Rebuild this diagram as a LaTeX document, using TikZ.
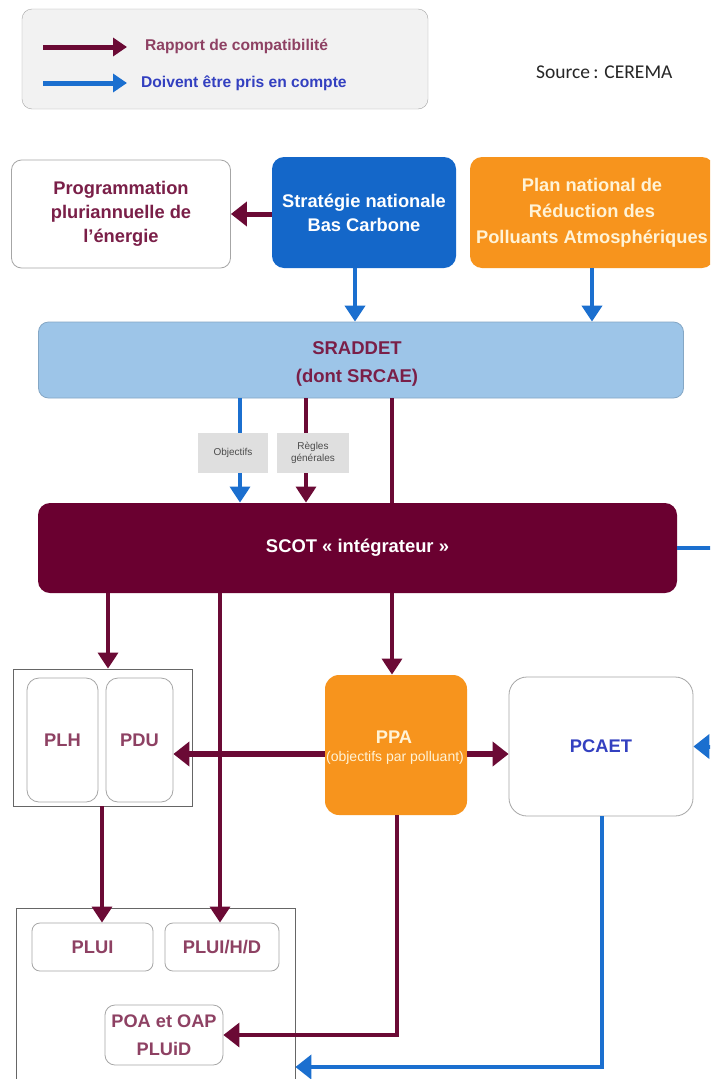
\documentclass[tikz,border=0pt]{standalone}
\usepackage{fontspec}
\setmainfont{Liberation Sans}
\newfontfamily\calib{Carlito}
\usetikzlibrary{arrows.meta}
\definecolor{maroonc}{HTML}{6B0A35}
\definecolor{scotc}{HTML}{6A0030}
\definecolor{bluec}{HTML}{1B6FCF}
\definecolor{snbcc}{HTML}{1467C9}
\definecolor{orangec}{HTML}{F7941D}
\definecolor{sradc}{HTML}{9DC5E8}
\definecolor{txtm}{HTML}{7A1F48}
\definecolor{txtb}{HTML}{3340C0}
\definecolor{cream}{HTML}{FFF3D6}
\begin{document}
\begin{tikzpicture}[x=1pt,y=-1pt,
  box/.style={draw=gray!70, line width=0.8pt, align=center, inner sep=0pt,
    font=\fontsize{18.3}{24}\selectfont\bfseries, text=txtm},
  grp/.style={draw=gray!80!black, line width=0.8pt, inner sep=0pt},
  tag/.style={fill=gray!25, inner sep=0pt, minimum width=70pt, minimum height=40pt,
    align=center, font=\fontsize{10}{12}\selectfont, text=black!70},
  tip/.style={-{Triangle[length=16pt,width=20pt]}},
  marr/.style={draw=maroonc, line width=4pt, tip},
  mline/.style={draw=maroonc, line width=3.5pt},
  barr/.style={draw=bluec, line width=4pt, tip}]
\useasboundingbox (0,0) rectangle (710,1079);
\clip (0,0) rectangle (710,1079);
\fill[white] (0,0) rectangle (710,1079);

% legend
\node[draw=gray!70, fill=gray!10, rounded corners=10pt, minimum width=406pt, minimum height=100pt, inner sep=0pt] (leg) at (225,59) {};
\coordinate (l1a) at (43,47); \coordinate (l1b) at (127,47);
\coordinate (l2a) at (43,83); \coordinate (l2b) at (127,83);
\draw[draw=maroonc, line width=5pt, -{Triangle[length=14pt,width=18pt]}] (l1a) -- (l1b);
\draw[draw=bluec, line width=5pt, -{Triangle[length=14pt,width=18pt]}] (l2a) -- (l2b);
\node[anchor=west, inner sep=0pt, font=\fontsize{15.6}{17}\selectfont\bfseries, text=txtm!85] (lt1) at (145,46) {Rapport de compatibilité};
\node[anchor=west, inner sep=0pt, font=\fontsize{15.6}{17}\selectfont\bfseries, text=txtb] (lt2) at (141,83) {Doivent être pris en compte};
\node[anchor=west, inner sep=0pt, font=\calib\fontsize{19.5}{22}\selectfont, text=black!85] (src) at (536,72) {Source\,: CEREMA};

% top row
\node[box, rounded corners=10pt, minimum width=219pt, minimum height=108pt] (PPE) at (121,214) {Programmation\\pluriannuelle de\\l’énergie};
\node[box, draw=none, fill=snbcc, text=white, rounded corners=12pt, minimum width=184pt, minimum height=111pt] (SNBC) at (364,212.5) {Stratégie nationale\\Bas Carbone};
\node[box, draw=none, fill=orangec, text=cream, rounded corners=12pt, minimum width=244pt, minimum height=111pt, font=\fontsize{18.3}{26}\selectfont\bfseries] (PNRPA) at (592,212.5) {Plan national de\\Réduction des\\Polluants Atmosphériques};

% SRADDET
\node[box, draw=sradc!85!black, fill=sradc, rounded corners=10pt, minimum width=645pt, minimum height=76pt] (SRAD) at (361,360) {};
\node[inner sep=0pt, align=center, font=\fontsize{18.5}{28}\selectfont\bfseries, text=txtm] (sradt) at (357,364) {SRADDET\\(dont SRCAE)};

% SCOT
\node[box, draw=none, fill=scotc, text=white, rounded corners=12pt, minimum width=639pt, minimum height=90pt, font=\fontsize{18.4}{20}\selectfont\bfseries] (SCOT) at (357.5,548) {SCOT « intégrateur »};

% coordinates of vertical connectors
\coordinate (xo) at (240,0);
\coordinate (xr) at (306,0);
\coordinate (xm) at (392,0);
\coordinate (xa) at (108,0);
\coordinate (xb) at (220,0);
\coordinate (xc) at (102,0);
\coordinate (xd) at (397,0);
\coordinate (xe) at (602,0);
\coordinate (yh) at (0,754);
\coordinate (yb) at (0,1067);

% connectors SRADDET -> SCOT (behind tags)
\draw[barr, line width=3.5pt] (SRAD.south -| xo) -- (SCOT.north -| xo);
\draw[marr, line width=3.5pt] (SRAD.south -| xr) -- (SCOT.north -| xr);
\draw[mline] (SRAD.south -| xm) -- (SCOT.north -| xm);
\node[tag] (obj) at (233,453) {Objectifs};
\node[tag, minimum width=72pt] (reg) at (313,453) {Règles\\générales};

% middle groups
\node[grp, minimum width=179pt, minimum height=137pt] (PLHG) at (102.5,737.5) {};
\node[box, rounded corners=12pt, minimum width=71pt, minimum height=124pt, text=txtm!85] (PLH) at (62.5,740) {PLH};
\node[box, rounded corners=12pt, minimum width=67pt, minimum height=124pt, text=txtm!85] (PDU) at (139.5,740) {PDU};
\node[box, draw=none, fill=orangec, rounded corners=14pt, minimum width=142pt, minimum height=140pt, text=cream] (PPA) at (396,745) {};
\node[inner sep=0pt, font=\fontsize{18.3}{20}\selectfont\bfseries, text=cream] (ppat) at (394,737) {PPA};
\node[inner sep=0pt, font=\fontsize{14}{15}\selectfont, text=cream] (ppas) at (395,758) {(objectifs par polluant)};
\node[box, rounded corners=18pt, minimum width=184pt, minimum height=139pt, text=txtb] (PCAET) at (601,746.5) {PCAET};

% bottom group
\node[grp, minimum width=279pt, minimum height=182pt] (OUT) at (155.5,999) {};
\node[box, rounded corners=8pt, minimum width=121pt, minimum height=48pt, text=txtm!85] (PLUI) at (92.5,947) {PLUI};
\node[box, rounded corners=8pt, minimum width=114pt, minimum height=48pt, text=txtm!85] (PLUIHD) at (222,947) {PLUI/H/D};
\node[box, rounded corners=10pt, minimum width=118pt, minimum height=60pt, text=txtm!85, font=\fontsize{18.2}{28}\selectfont\bfseries] (POA) at (164,1035) {POA et OAP\\PLUiD};

% top connectors
\draw[marr, line width=5pt, -{Triangle[length=16pt,width=24pt]}] (SNBC.west |- PPE.east) -- (PPE.east);
\draw[barr] ([xshift=-9pt]SNBC.south) -- ([xshift=-9pt]SNBC.south |- SRAD.north);
\draw[barr] (PNRPA.south) -- (PNRPA.south |- SRAD.north);

% SCOT downwards
\draw[marr, line width=3.5pt] (SCOT.south -| xa) -- (PLHG.north -| xa);
\draw[marr, line width=3.5pt] (SCOT.south -| xb) -- (PLUIHD.north -| xb);
\draw[marr, line width=3.5pt] (SCOT.south -| xm) -- (PPA.north -| xm);
\draw[marr, line width=3.5pt] (PLHG.south -| xc) -- (PLUI.north -| xc);

% PPA connectors
\draw[marr, line width=6pt, -{Triangle[length=16pt,width=24pt]}] (PPA.west |- yh) -- (PDU.east |- yh);
\draw[marr, line width=6pt, -{Triangle[length=16pt,width=24pt]}] (PPA.east |- yh) -- (PCAET.west |- yh);
\draw[marr, line width=3.5pt, -{Triangle[length=16pt,width=24pt]}] (PPA.south -| xd) |- (POA.east);

% blue loops
\draw[barr, line width=4pt, -{Triangle[length=16pt,width=24pt]}] (PCAET.south -| xe) |- (OUT.east |- yb);
\draw[barr, line width=4pt, -{Triangle[length=16pt,width=24pt]}] (SCOT.east) -- ++(45,0) |- (PCAET.east);
\end{tikzpicture}
\end{document}
